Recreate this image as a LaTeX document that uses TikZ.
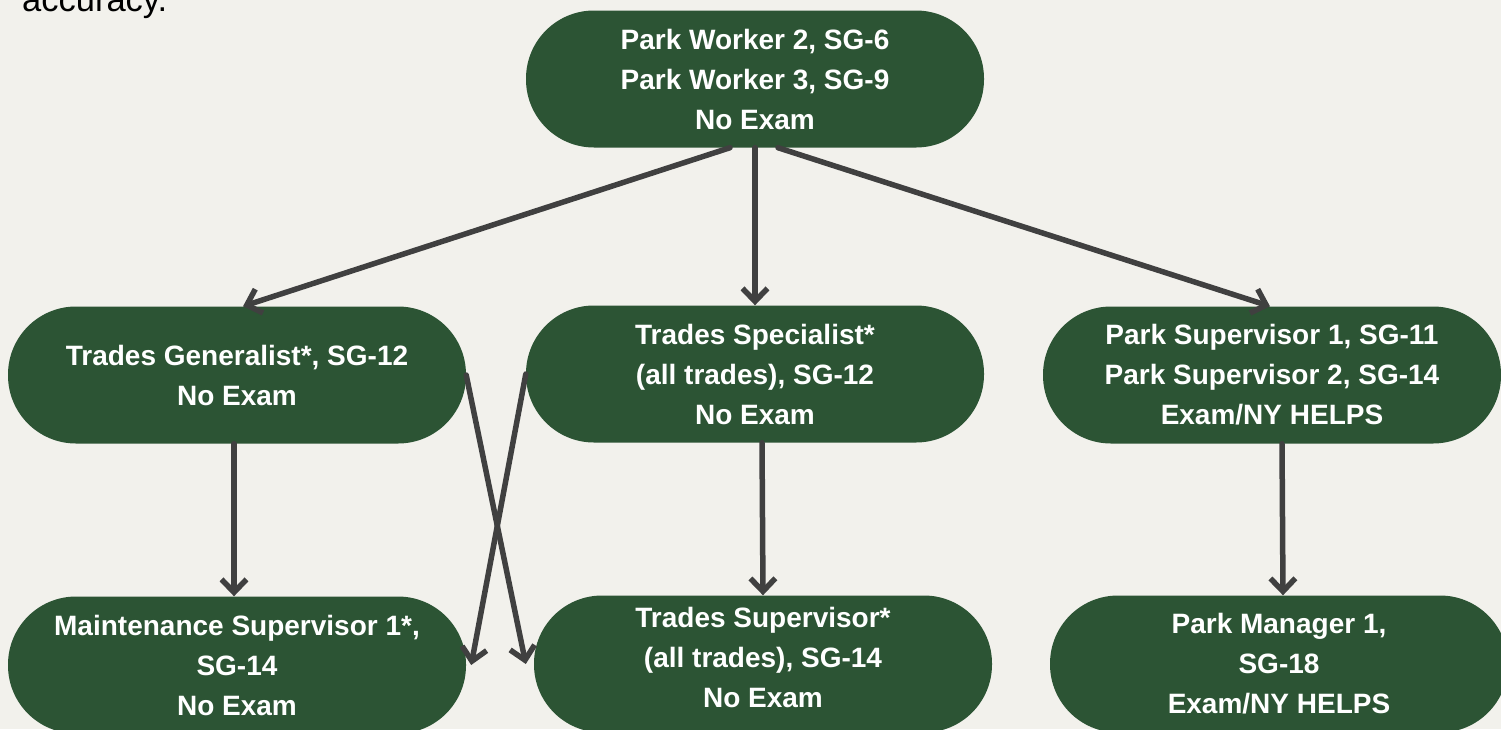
\documentclass[tikz,border=0pt]{standalone}
\usepackage{fontspec}
\setmainfont{Liberation Sans}
\usetikzlibrary{arrows.meta,calc}
\definecolor{bgc}{HTML}{F2F1EC}
\definecolor{pillc}{HTML}{2C5434}
\definecolor{arrc}{HTML}{404040}
\tikzset{
  pill/.style={fill=pillc, draw=none, rounded corners=68pt, minimum width=458pt,
    minimum height=137pt, inner sep=0pt, text=white, align=center,
    font=\fontsize{28}{40}\selectfont\bfseries},
  conn/.style={draw=arrc, line width=5.5pt, -{Straight Barb[length=13pt,width=25pt]}, line cap=round, line join=round}
}
\begin{document}
\begin{tikzpicture}[x=1pt,y=-1pt]
\fill[bgc] (0,0) rectangle (1501,729);
\useasboundingbox (0,0) rectangle (1501,729);
\node[anchor=base west, inner sep=0pt, text=black, font=\fontsize{34.5}{40}\selectfont] (acc) at (22,11.7) {accuracy.};
\node[pill] (pw) at (755,79) {Park Worker 2, SG-6\\Park Worker 3, SG-9\\No Exam};
\node[pill] (tg) at (237,375) {Trades Generalist*, SG-12\\No Exam};
\node[pill] (ts) at (755,374) {Trades Specialist*\\(all trades), SG-12\\No Exam};
\node[pill] (ps) at (1272,375) {Park Supervisor 1, SG-11\\Park Supervisor 2, SG-14\\Exam/NY HELPS};
\node[pill] (ms) at (237,665) {Maintenance Supervisor 1*,\\SG-14\\No Exam};
\node[pill] (tsu) at (763,664) {Trades Supervisor*\\(all trades), SG-14\\No Exam\\[-26pt]\mbox{}};
\node[pill] (pm) at (1279,664) {Park Manager 1,\\SG-18\\Exam/NY HELPS};
\draw[conn] ([xshift=-25pt]pw.south) -- ([xshift=6pt]tg.north);
\draw[conn] (pw.south) -- (ts.north);
\draw[conn] ([xshift=23pt]pw.south) -- ([xshift=-2pt]ps.north);
\draw[conn] ([xshift=-3pt]tg.south) -- ([xshift=-3pt]ms.north);
\draw[conn] ([xshift=7pt]ts.south) -- (tsu.north);
\draw[conn] ([xshift=10pt]ps.south) -- ([xshift=4pt]pm.north);
\draw[conn] (tg.east) -- ([xshift=-8pt]tsu.west);
\draw[conn] (ts.west) -- ([xshift=5pt]ms.east);
\end{tikzpicture}
\end{document}
